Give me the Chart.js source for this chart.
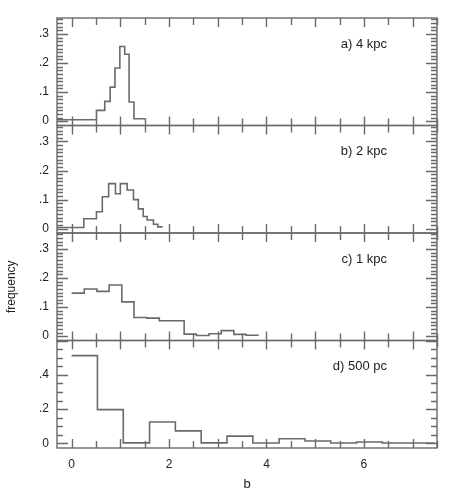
<!DOCTYPE html>
<html>
<head>
<meta charset="utf-8">
<script src="https://cdn.jsdelivr.net/npm/chart.js@4/dist/chart.umd.min.js"></script>
<style>
  html, body { margin: 0; padding: 0; background: #fff; }
  #wrap { position: relative; width: 450px; height: 496px; }
</style>
</head>
<body>
<div id="wrap"><canvas id="histChart"></canvas></div>
<script>
// bin edges and frequencies
const edgesA = [-0.3, 0.51, 0.68, 0.79, 0.89, 0.99, 1.09, 1.18, 1.28, 1.52];
const freqA  = [0.005, 0.037, 0.068, 0.117, 0.183, 0.257, 0.23, 0.066, 0.008];

const edgesB = [-0.3, 0.25, 0.51, 0.63, 0.76, 0.9, 1.0, 1.14, 1.27, 1.37, 1.47, 1.55, 1.68, 1.77, 1.87];
const freqB  = [0.004, 0.034, 0.058, 0.11, 0.155, 0.12, 0.155, 0.133, 0.1, 0.068, 0.042, 0.03, 0.015, 0.006];

const edgesC = [0, 0.26, 0.52, 0.77, 1.03, 1.28, 1.54, 1.8, 2.05, 2.31, 2.56, 2.82, 3.07, 3.33, 3.58, 3.84];
const freqC  = [0.148, 0.162, 0.154, 0.176, 0.118, 0.064, 0.062, 0.053, 0.053, 0.007, 0.002, 0.008, 0.019, 0.006, 0.003];

const edgesD = [0, 0.53, 1.06, 1.6, 2.13, 2.66, 3.19, 3.72, 4.26, 4.79, 5.32, 5.85, 6.38, 6.92, 7.45];
const freqD  = [0.512, 0.197, 0.003, 0.125, 0.073, 0.003, 0.042, 0.002, 0.027, 0.014, 0.002, 0.008, 0.002, 0.002];

const panelLabels = ['a) 4 kpc', 'b) 2 kpc', 'c) 1 kpc', 'd) 500 pc'];
const xTicks = [0, 2, 4, 6];
const yTicksSmall = [0, 0.1, 0.2, 0.3];
const yTicksBig = [0, 0.2, 0.4];

const FONT = 'Liberation Sans, Arial, sans-serif';
const LINE = '#6a6a6a';
const TEXT = '#222';

// one point per bin (left edge, value) plus the closing edge
function steps(edges, vals) {
  return edges.map((x, i) => ({ x: x, y: vals[Math.min(i, vals.length - 1)] }));
}

function fmt(v) {
  return v === 0 ? '0' : v.toFixed(1).replace(/^0/, '');
}

function yScale(min, max, ticks, weight, title) {
  return {
    type: 'linear',
    position: 'left',
    stack: 'panels',
    stackWeight: 1,
    weight: weight,
    min: min,
    max: max,
    afterBuildTicks: s => { s.ticks = ticks.map(v => ({ value: v })); },
    afterFit: s => { s.width = 57; },
    grid: { display: false, drawTicks: false },
    border: { display: false },
    ticks: { padding: 8, color: TEXT, font: { family: FONT, size: 12 }, callback: v => fmt(v) },
    title: title ? { display: true, text: title, color: TEXT, font: { family: FONT, size: 12 }, padding: { top: 4, bottom: 0 } } : { display: false }
  };
}

function ds(edges, vals, axis) {
  return {
    data: steps(edges, vals),
    yAxisID: axis,
    stepped: 'before',
    borderColor: LINE,
    borderWidth: 1.6,
    pointRadius: 0,
    fill: false
  };
}

// frame boxes, inward ticks on every side, panel captions
const framePlugin = {
  id: 'frames',
  afterDraw(chart) {
    const ctx = chart.ctx;
    const area = chart.chartArea;
    const xs = chart.scales.x;
    const panels = [
      { s: chart.scales.ya, minor: 0.0125, major: 0.1 },
      { s: chart.scales.yb, minor: 0.0125, major: 0.1 },
      { s: chart.scales.yc, minor: 0.0125, major: 0.1 },
      { s: chart.scales.yd, minor: 0.05, major: 0.2 }
    ];
    ctx.save();
    ctx.strokeStyle = LINE;
    ctx.lineWidth = 1.4;
    panels.forEach((p, k) => {
      const s = p.s;
      ctx.strokeRect(area.left, s.top, area.right - area.left, s.bottom - s.top);
      ctx.beginPath();
      for (let v = 0; v <= s.max + 1e-9; v += p.minor) {
        const y = Math.round(s.getPixelForValue(v)) + 0.5;
        const isMajor = Math.abs(v / p.major - Math.round(v / p.major)) < 1e-6;
        const len = isMajor ? 11 : 6;
        ctx.moveTo(area.left, y); ctx.lineTo(area.left + len, y);
        ctx.moveTo(area.right, y); ctx.lineTo(area.right - len, y);
      }
      for (let v = 0; v <= xs.max + 1e-9; v += 0.5) {
        const x = Math.round(xs.getPixelForValue(v)) + 0.5;
        const len = (v % 1 === 0) ? 9 : 7;
        ctx.moveTo(x, s.top); ctx.lineTo(x, s.top + len);
        ctx.moveTo(x, s.bottom); ctx.lineTo(x, s.bottom - len);
      }
      ctx.stroke();
      ctx.fillStyle = TEXT;
      ctx.font = '13px ' + FONT;
      ctx.textAlign = 'right';
      ctx.textBaseline = 'middle';
      ctx.fillText(panelLabels[k], area.right - 50, s.top + 26);
    });
    ctx.restore();
  }
};

new Chart(document.getElementById('histChart'), {
  type: 'line',
  data: {
    datasets: [
      ds(edgesA, freqA, 'ya'),
      ds(edgesB, freqB, 'yb'),
      ds(edgesC, freqC, 'yc'),
      ds(edgesD, freqD, 'yd')
    ]
  },
  options: {
    responsive: true,
    maintainAspectRatio: false,
    animation: false,
    layout: { padding: { top: 18, right: 13, left: 0, bottom: 0 } },
    plugins: { legend: { display: false }, tooltip: { enabled: false } },
    scales: {
      x: {
        type: 'linear',
        position: 'bottom',
        min: -0.3,
        max: 7.5,
        afterBuildTicks: s => { s.ticks = xTicks.map(v => ({ value: v })); },
        afterFit: s => { s.height = 48; },
        grid: { display: false, drawTicks: false },
        border: { display: false },
        ticks: { padding: 9, color: TEXT, font: { family: FONT, size: 12 } },
        title: { display: true, text: 'b', color: TEXT, font: { family: FONT, size: 13 }, padding: { top: 0, bottom: 4 } }
      },
      ya: yScale(-0.015, 0.355, yTicksSmall, 4),
      yb: yScale(-0.015, 0.355, yTicksSmall, 3),
      yc: yScale(-0.015, 0.355, yTicksSmall, 2, 'frequency'),
      yd: yScale(-0.027, 0.6, yTicksBig, 1)
    }
  },
  plugins: [framePlugin]
});
</script>
</body>
</html>
